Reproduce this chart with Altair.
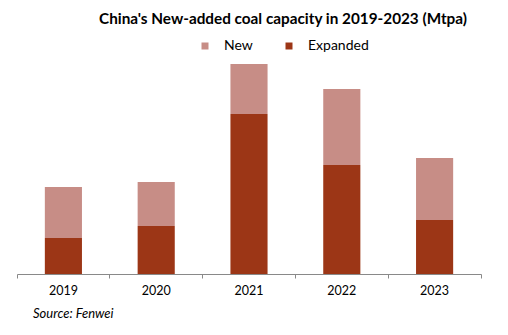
import altair as alt
import pandas as pd

years = ["2019", "2020", "2021", "2022", "2023"]
expanded = [36, 48, 160, 109, 54]
new = [51, 44, 50, 76, 62]
series = ["New", "Expanded"]
colors = ["#C78D86", "#9C3616"]
source_note = ["Source: Fenwei"]

rows = []
for yr, e, n in zip(years, expanded, new):
    rows.append({"year": yr, "type": "Expanded", "value": e, "ord": 0})
    rows.append({"year": yr, "type": "New", "value": n, "ord": 1})
df = pd.DataFrame(rows)

bars = alt.Chart(df).mark_bar(width={"band": 0.4}).encode(
    x=alt.X(
        "year:N", sort=years, title=None,
        scale=alt.Scale(paddingInner=0, paddingOuter=0),
        axis=alt.Axis(labelAngle=0, bandPosition=1, tickExtra=True, tickSize=4,
                      domainColor="#898989", tickColor="#898989",
                      labelFont="Lato", labelFontSize=12.5, labelColor="#000000",
                      labelPadding=6, grid=False),
    ),
    y=alt.Y("value:Q", stack="zero", scale=alt.Scale(domain=[0, 220], nice=False), axis=None),
    color=alt.Color(
        "type:N",
        scale=alt.Scale(domain=series, range=colors),
        legend=alt.Legend(title=None, orient="none", direction="horizontal",
                          legendX=181, legendY=-15, symbolType="square", symbolSize=49,
                          symbolStrokeWidth=0, labelFont="Lato", labelFontSize=14,
                          labelColor="#000000", labelOffset=12, columnPadding=29),
    ),
    order=alt.Order("ord:Q"),
)

note = alt.Chart(pd.DataFrame({"t": source_note})).mark_text(
    font="Lato", fontStyle="italic", fontSize=13, align="left", baseline="middle", color="#000000"
).encode(x=alt.value(16), y=alt.value(260), text="t:N")

chart = alt.layer(bars, note).properties(
    width=464, height=220,
    title=alt.TitleParams("China's New-added coal capacity in 2019-2023 (Mtpa)",
                          font="Lato", fontSize=15.3, fontWeight="bold", color="#000000",
                          anchor="middle", dx=34, offset=12),
    autosize=alt.AutoSizeParams(type="none"),
    padding={"left": 17, "top": 54, "right": 27, "bottom": 61},
).configure_view(stroke=None)

chart.save("out.html", embed_options={"renderer": "svg", "actions": False})
